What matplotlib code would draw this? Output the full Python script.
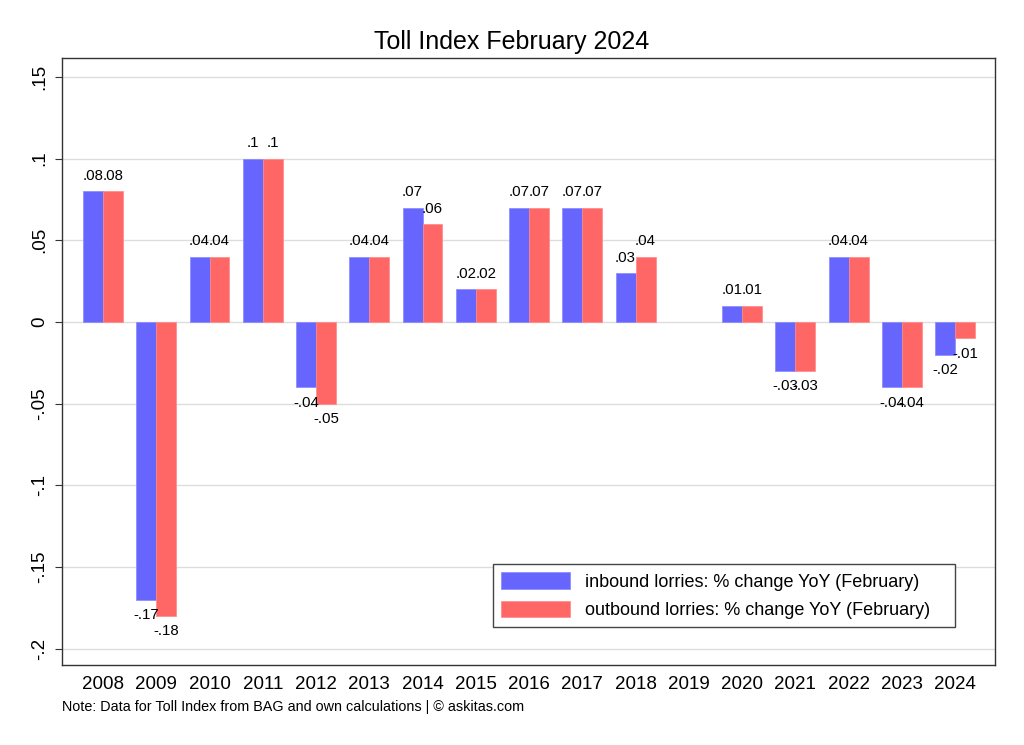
import matplotlib.pyplot as plt
import numpy as np

plt.rcParams['font.family'] = ['Liberation Sans', 'DejaVu Sans']

years = [2008, 2009, 2010, 2011, 2012, 2013, 2014, 2015, 2016,
         2017, 2018, 2019, 2020, 2021, 2022, 2023, 2024]
inbound = [.08, -.17, .04, .1, -.04, .04, .07, .02, .07,
           .07, .03, np.nan, .01, -.03, .04, -.04, -.02]
outbound = [.08, -.18, .04, .1, -.05, .04, .06, .02, .07,
            .07, .04, np.nan, .01, -.03, .04, -.04, -.01]
yticks = [-.2, -.15, -.1, -.05, 0, .05, .1, .15]
ytick_labels = ['-.2', '-.15', '-.1', '-.05', '0', '.05', '.1', '.15']


def stata_fmt(v):
    if np.isnan(v):
        return ''
    s = ('%.2f' % v).rstrip('0').rstrip('.')
    s = s.replace('0.', '.')
    return s


fig = plt.figure(figsize=(10.24, 7.45), dpi=100)
ax = fig.add_axes([62 / 1024, 1 - 665 / 745, 933 / 1024, 607 / 745])

x = np.array(years, dtype=float)
w = 0.375
b1 = ax.bar(x - w / 2, inbound, w, color='#6666ff', edgecolor='#8888ff', linewidth=0.5,
            label='inbound lorries: % change YoY (February)', zorder=3)
b2 = ax.bar(x + w / 2, outbound, w, color='#ff6666', edgecolor='#ff8888', linewidth=0.5,
            label='outbound lorries: % change YoY (February)', zorder=3)

for bars in (b1, b2):
    ax.bar_label(bars, labels=[stata_fmt(v) for v in bars.datavalues],
                 padding=6, fontsize=10.8)

ax.set_xlim(2007.23, 2024.75)
ax.set_ylim(-0.21, 0.1616)
ax.set_xticks(years)
ax.set_xticklabels([str(y) for y in years], fontsize=13.5)
ax.tick_params(axis='x', length=0, pad=8)
ax.set_yticks(yticks)
ax.set_yticklabels(ytick_labels, fontsize=13.5, rotation=90, va='center')
ax.tick_params(axis='y', length=5, color='#333333', pad=5)
ax.grid(axis='y', color='#dddddd', linewidth=1, zorder=0)
for s in ax.spines.values():
    s.set_color('#333333')
    s.set_linewidth(1)

leg = ax.legend(loc='lower left', bbox_to_anchor=(431 / 933, 38 / 607, 462 / 933, 62 / 607),
                mode='expand', borderaxespad=0, fontsize=13,
                handlelength=3.8, handleheight=1.0, handletextpad=0.85,
                fancybox=False, edgecolor='#444444', framealpha=1,
                borderpad=0.45, labelspacing=0.55)
leg.get_frame().set_linewidth(1)

fig.text(0.5, 1 - 42 / 745, 'Toll Index February 2024', ha='center', va='center', fontsize=18)
fig.text(62 / 1024, 1 - 707 / 745, 'Note: Data for Toll Index from BAG and own calculations | © askitas.com',
         ha='left', va='center', fontsize=10.4)

fig.savefig('out.png', dpi=100)
